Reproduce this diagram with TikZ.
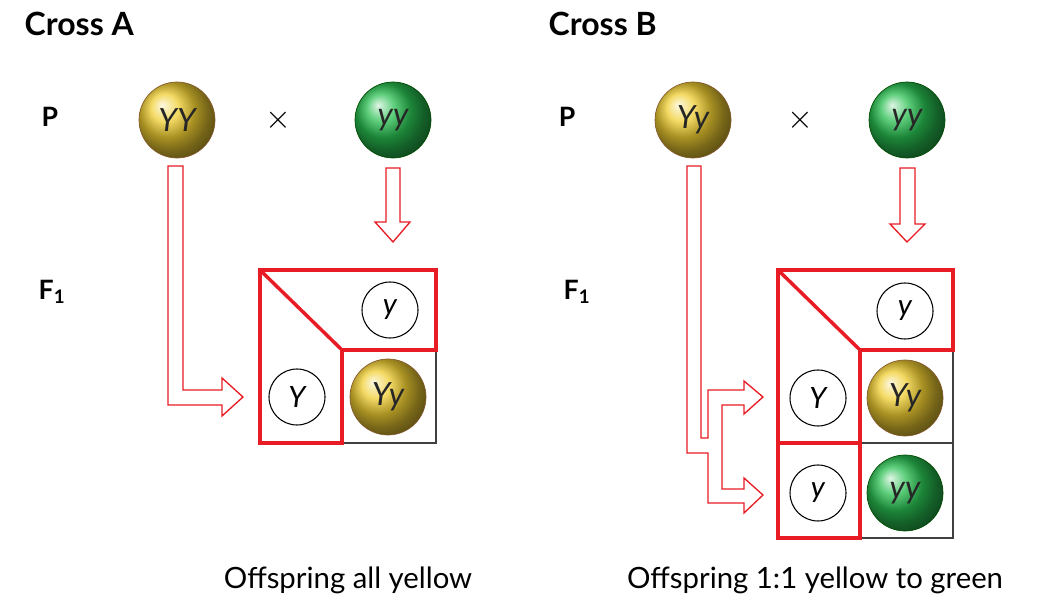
\documentclass[tikz,border=0pt]{standalone}
\usepackage{fontspec}
\setmainfont{Lato}
\begin{document}
\begin{tikzpicture}[x=0.75pt,y=-0.75pt,
  title/.style={font=\fontsize{24}{28}\selectfont\bfseries,anchor=west},
  gen/.style={font=\fontsize{20}{24}\selectfont\bfseries},
  gold/.style={circle,minimum size=57pt,draw=brown!70!black,line width=0.5pt,ball color={rgb,255:red,240;green,206;blue,50},font=\fontsize{24}{28}\selectfont\itshape,text=black!85},
  grn/.style={circle,minimum size=57pt,draw=green!30!black,line width=0.5pt,ball color={rgb,255:red,40;green,190;blue,80},font=\fontsize{24}{28}\selectfont\itshape,text=black!85},
  gam/.style={circle,minimum size=42pt,draw=black,line width=0.8pt,font=\fontsize{22}{26}\selectfont\itshape},
  redbox/.style={draw={rgb,255:red,232;green,28;blue,36},line width=2.6pt,line join=miter},
  cell/.style={draw=black!75,line width=0.8pt},
  harrow/.style={draw={rgb,255:red,232;green,28;blue,36},line width=1pt,fill=white},
  captxt/.style={font=\fontsize{22}{26}\selectfont}]
\useasboundingbox (0,0) rectangle (1038,598);
% ---- Cross A
\node[title] (ta) at (20,24) {Cross A};
\node[gen] (pa) at (50,117) {P};
\node[gen] (fa) at (52,292) {F\textsubscript{\bfseries 1}};
\node[gold] (ya) at (177,120) {YY};
\node[font=\fontsize{24}{26}\selectfont] (xa) at (278,120) {$\times$};
\node[grn] (ga) at (393,120) {yy};
\draw[harrow] (168,166) -- (183,166) -- (183,390) -- (222,390) -- (222,378) -- (243,397) -- (222,416) -- (222,405) -- (168,405) -- cycle;
\draw[harrow] (386,168) -- (400,168) -- (400,222) -- (410,222) -- (393,242) -- (375,222) -- (386,222) -- cycle;
\draw[cell] (342,350) rectangle (436,443);
\draw[redbox] (260,270) -- (436,270) -- (436,350) -- (342,350) -- (342,443) -- (260,443) -- cycle;
\draw[redbox] (260,270) -- (342,350);
\node[gam] (a1) at (390,310) {y};
\node[gam] (a2) at (297,397) {Y};
\node[gold] (a3) at (388,397) {Yy};
\node[captxt] (ca) at (348,580) {Offspring all yellow};
% ---- Cross B
\node[title] (tb) at (544,24) {Cross B};
\node[gen] (pb) at (567,117) {P};
\node[gen] (fb) at (577,292) {F\textsubscript{\bfseries 1}};
\node[gold] (yb) at (693,120) {Yy};
\node[font=\fontsize{24}{26}\selectfont] (xb) at (800,120) {$\times$};
\node[grn] (gb) at (907,120) {yy};
\draw[harrow] (687,166) -- (701,166) -- (701,438) -- (708,438) -- (708,390) -- (744,390) -- (744,381) -- (763,397) -- (744,414) -- (744,405) -- (722,405) -- (722,489) -- (744,489) -- (744,478) -- (763,495) -- (744,513) -- (744,503) -- (708,503) -- (708,453) -- (687,453) -- cycle;
\draw[harrow] (900,168) -- (915,168) -- (915,224) -- (925,224) -- (907,242) -- (890,224) -- (900,224) -- cycle;
\draw[cell] (860,350) rectangle (953,443);
\draw[cell] (860,443) rectangle (953,538);
\draw[redbox] (778,270) -- (953,270) -- (953,350) -- (860,350) -- (860,538) -- (778,538) -- cycle;
\draw[redbox] (778,443) -- (860,443);
\draw[redbox] (778,270) -- (860,350);
\node[gam] (b1) at (905,311) {y};
\node[gam] (b2) at (818,398) {Y};
\node[gam] (b3) at (818,493) {y};
\node[gold] (b4) at (905,398) {Yy};
\node[grn] (b5) at (905,493) {yy};
\node[captxt] (cb) at (815,580) {Offspring 1:1 yellow to green};
\end{tikzpicture}
\end{document}
